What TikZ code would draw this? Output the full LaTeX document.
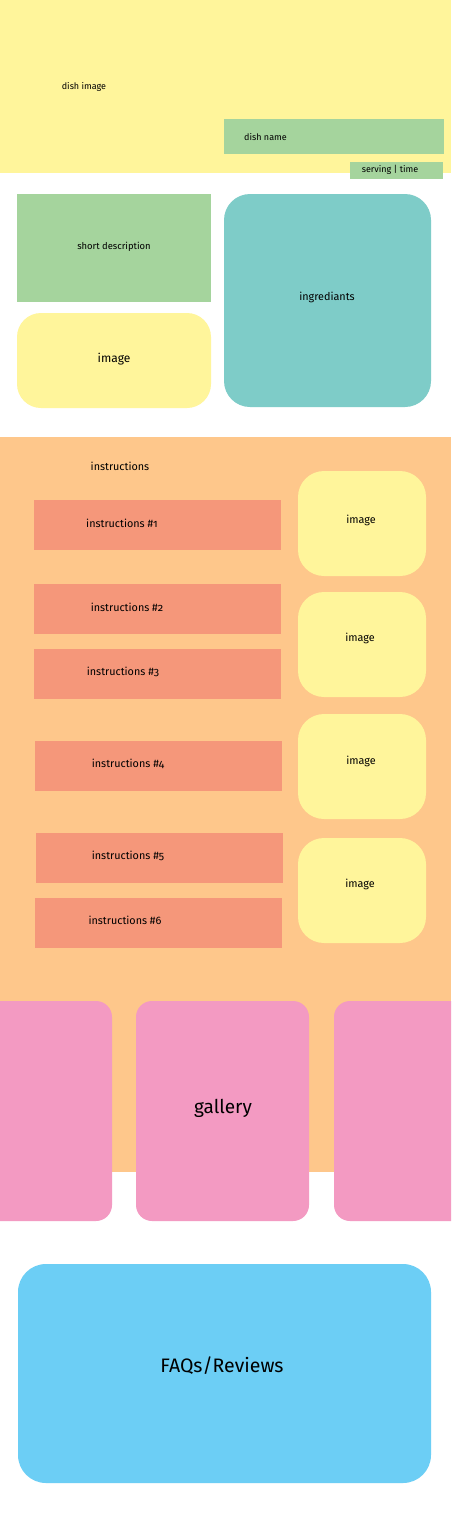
\documentclass[tikz,border=0pt]{standalone}
\usepackage{fontspec}
\setmainfont[Numbers=OldStyle]{Fira Sans}
\definecolor{cyel}{HTML}{FFF59B}
\definecolor{cgrn}{HTML}{A5D49D}
\definecolor{cteal}{HTML}{7ECCC8}
\definecolor{corg}{HTML}{FEC78B}
\definecolor{csal}{HTML}{F5977A}
\definecolor{cpink}{HTML}{F39AC2}
\definecolor{cblue}{HTML}{6CCEF5}
\tikzset{
  area/.style={draw=none, inner sep=0pt, outer sep=0pt, anchor=north west},
  rbox/.style={area, rounded corners=#1},
  lbl/.style={inner sep=0pt, font=\fontsize{9}{10}\selectfont},
  mlbl/.style={inner sep=0pt, font=\fontsize{10.8}{12}\selectfont},
  biglbl/.style={inner sep=0pt, font=\fontsize{19.5}{22}\selectfont},
}
\begin{document}
\begin{tikzpicture}[x=1pt,y=-1pt]
\useasboundingbox (0,0) rectangle (451,1529);
\clip (0,0) rectangle (451,1529);
\fill[white] (0,0) rectangle (451,1529);
% header
\node[area, fill=cyel, minimum width=451pt, minimum height=173pt] (hero) at (0,0) {};
\node[lbl] (herot) at (84,87) {dish image};
\node[area, fill=cgrn, minimum width=220pt, minimum height=35pt] (name) at (224,119) {};
\node[lbl, anchor=west] (namet) at (244,137) {dish name};
\node[area, fill=cgrn, minimum width=93pt, minimum height=17pt] (serv) at (350,162) {};
\node[lbl] (servt) at (390,170) {serving | time};
% second row
\node[area, fill=cgrn, minimum width=194pt, minimum height=108pt] (desc) at (17,194) {};
\node[lbl, font=\fontsize{9.4}{11}\selectfont] (desct) at (114,247) {short description};
\node[rbox=24pt, fill=cyel, minimum width=194pt, minimum height=95pt] (img0) at (17,313) {};
\node[mlbl, font=\fontsize{12}{14}\selectfont] (img0t) at (114,359) {image};
\node[rbox=26pt, fill=cteal, minimum width=207pt, minimum height=213pt] (ingr) at (224,194) {};
\node[mlbl] (ingrt) at (327,297) {ingrediants};
% instructions
\node[area, fill=corg, minimum width=451pt, minimum height=735pt] (instr) at (0,437) {};
\node[mlbl] (instrt) at (120,466) {instructions};
\node[area, fill=csal, minimum width=247pt, minimum height=50pt] (i1) at (34,500) {};
\node[mlbl] (i1t) at (122,523) {instructions \#1};
\node[area, fill=csal, minimum width=247pt, minimum height=50pt] (i2) at (34,584) {};
\node[mlbl] (i2t) at (127,607) {instructions \#2};
\node[area, fill=csal, minimum width=247pt, minimum height=50pt] (i3) at (34,649) {};
\node[mlbl] (i3t) at (123,672) {instructions \#3};
\node[area, fill=csal, minimum width=247pt, minimum height=50pt] (i4) at (35,741) {};
\node[mlbl] (i4t) at (128,764) {instructions \#4};
\node[area, fill=csal, minimum width=247pt, minimum height=50pt] (i5) at (36,833) {};
\node[mlbl] (i5t) at (128,856) {instructions \#5};
\node[area, fill=csal, minimum width=247pt, minimum height=50pt] (i6) at (35,898) {};
\node[mlbl] (i6t) at (125,920) {instructions \#6};
\node[rbox=26pt, fill=cyel, minimum width=128pt, minimum height=105pt] (im1) at (298,471) {};
\node[mlbl] (im1t) at (361,520) {image};
\node[rbox=26pt, fill=cyel, minimum width=128pt, minimum height=105pt] (im2) at (298,592) {};
\node[mlbl] (im2t) at (360,638) {image};
\node[rbox=26pt, fill=cyel, minimum width=128pt, minimum height=105pt] (im3) at (298,714) {};
\node[mlbl] (im3t) at (361,761) {image};
\node[rbox=26pt, fill=cyel, minimum width=128pt, minimum height=105pt] (im4) at (298,838) {};
\node[mlbl] (im4t) at (360,884) {image};
% gallery
\node[rbox=16pt, fill=cpink, minimum width=132pt, minimum height=220pt] (g1) at (-20,1001) {};
\node[rbox=16pt, fill=cpink, minimum width=173pt, minimum height=220pt] (g2) at (136,1001) {};
\node[rbox=16pt, fill=cpink, minimum width=140pt, minimum height=220pt] (g3) at (334,1001) {};
\node[biglbl, font=\fontsize{19}{22}\selectfont] (g2t) at (223,1108) {gallery};
\node[rbox=28pt, fill=cblue, minimum width=413pt, minimum height=219pt] (faq) at (18,1264) {};
\node[biglbl] (faqt) at (222,1366) {FAQs/Reviews};
\end{tikzpicture}
\end{document}
